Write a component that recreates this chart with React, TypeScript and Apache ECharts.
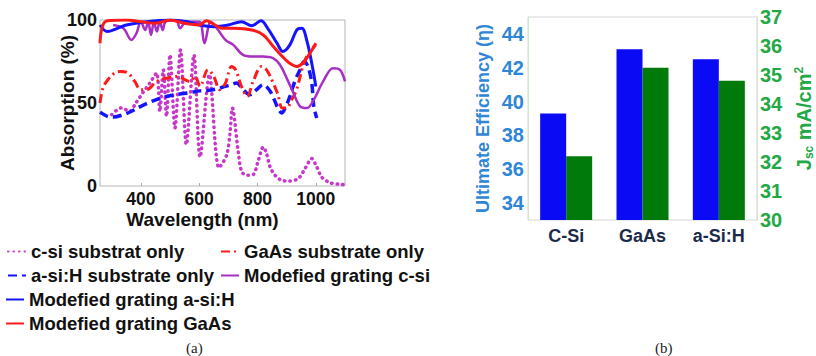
import { useEffect, useRef } from 'react';
import * as echarts from 'echarts';

// ---------- Panel (a): absorption spectra ----------
const wavelengthTicks = [400, 600, 800, 1000];
const absorptionTicks = [0, 50, 100];

const cSiSubstrate: [number, number][] = [
  [300, 43], [333, 47], [362, 45], [383, 50], [410, 57], [431, 62], [454, 68], [465, 45],
  [477, 70], [488, 42], [500, 79], [517, 35], [536, 82], [556, 25], [582, 79], [603, 17.5],
  [635, 67], [668, 11], [694, 18.5], [705, 31], [714, 47], [734, 20.5], [746, 8.5], [765, 6.5],
  [786, 7], [803, 15.5], [820, 23.5], [831, 19.5], [843, 11.5], [860, 6.5], [883, 3.4],
  [908, 3], [940, 4.5], [963, 10.5], [986, 16.5], [1003, 11.5], [1020, 5.4], [1048, 2],
  [1083, 1], [1100, 0.8],
];
const aSiHSubstrate: [number, number][] = [
  [260, 44.5], [285, 42], [306, 41.5], [340, 43], [374, 45.5], [400, 48], [431, 50.5],
  [460, 52.5], [489, 54], [520, 55], [546, 55.7], [575, 56.5], [603, 57.3], [630, 57.5],
  [660, 58.5], [690, 60], [710, 61], [728, 62], [751, 58], [774, 55], [797, 58], [819, 61],
  [840, 58], [855, 53], [870, 47], [883, 44], [895, 47], [911, 54], [930, 64], [946, 70],
  [960, 75], [973, 72], [986, 62], [993, 48], [1003, 41],
];
const gaAsSubstrate: [number, number][] = [
  [260, 50], [270, 59], [287, 64], [310, 68], [332, 69], [356, 68], [379, 63], [400, 58],
  [420, 58], [454, 63], [489, 65], [523, 66], [568, 63], [586, 66], [603, 60], [630, 70],
  [650, 66], [671, 58], [690, 62], [711, 72], [725, 70], [745, 60], [765, 54], [785, 63],
  [814, 72], [831, 70], [854, 62], [870, 55], [885, 47], [900, 47], [917, 52], [934, 58],
  [957, 73], [975, 80], [1000, 85],
];
const gratingCSi: [number, number][] = [
  [305, 97], [340, 95], [368, 88], [385, 92], [400, 99], [415, 94], [425, 99], [435, 91],
  [445, 99], [455, 93], [465, 99], [475, 94], [485, 99], [520, 100], [535, 95], [555, 99],
  [600, 99], [618, 86], [640, 99], [665, 94], [690, 88], [717, 85], [750, 79], [784, 78],
  [819, 78], [853, 77], [877, 73], [900, 65], [921, 57], [946, 48], [970, 47], [990, 51],
  [1025, 63], [1059, 71], [1083, 70], [1100, 63],
];
const gratingASiH: [number, number][] = [
  [260, 97], [285, 93], [320, 95], [350, 97], [420, 99], [500, 100], [560, 99], [600, 97],
  [650, 96], [700, 97], [745, 99], [780, 96.5], [812, 99.5], [835, 95], [867, 86], [887, 81],
  [911, 85], [935, 94], [952, 95], [970, 87], [987, 73], [1000, 60],
];
const gratingGaAs: [number, number][] = [
  [260, 86], [268, 96], [285, 99.5], [350, 100], [400, 99], [450, 98], [500, 100], [550, 98],
  [600, 97], [625, 99.5], [645, 98], [680, 95], [720, 95], [780, 94], [820, 91], [850, 85],
  [885, 78], [910, 74], [935, 72], [955, 74], [980, 80], [1000, 86],
];

const seriesNames = [
  'c-si substrat only',
  'GaAs substrate only',
  'a-si:H substrate only',
  'Modefied grating c-si',
  'Modefied grating a-si:H',
  'Modefied grating GaAs',
];

// ---------- Panel (b): efficiency / Jsc ----------
const materials = ['C-Si', 'GaAs', 'a-Si:H'];
const ultimateEfficiency = [39.3, 43.1, 42.5];
const jscValues = [32.2, 35.25, 34.8];

const FONT = '"Liberation Sans", Arial, sans-serif';
const RED = '#FF1A1A';
const BLUE = '#1414FF';
const MAGENTA_DOT = '#C838C8';
const MAGENTA = '#A82EC4';
const EFF_BLUE = '#2F86D6';
const JSC_GREEN = '#22A845';

const legendLayout = [
  { name: seriesNames[0], left: 7, top: 242 },
  { name: seriesNames[1], left: 220, top: 242 },
  { name: seriesNames[2], left: 7, top: 266 },
  { name: seriesNames[3], left: 220, top: 266 },
  { name: seriesNames[4], left: 5, top: 290 },
  { name: seriesNames[5], left: 5, top: 314 },
];

export default function App() {
  const ref = useRef<HTMLDivElement>(null);
  useEffect(() => {
    const chart = echarts.init(ref.current!, null, { renderer: 'svg' });
    const lineBase = {
      type: 'line' as const,
      xAxisIndex: 0,
      yAxisIndex: 0,
      showSymbol: false,
      symbol: 'none',
      smooth: 0.35,
    };
    const option: any = {
      animation: false,
      backgroundColor: '#fff',
      textStyle: { fontFamily: FONT },
      grid: [
        { left: 100, top: 20, width: 245, height: 166, show: true, borderColor: '#b4b4b4', borderWidth: 1 },
        { left: 528, top: 17, width: 244, height: 203, show: true, borderColor: '#d6d6d6', borderWidth: 1 },
      ],
      xAxis: [
        {
          type: 'value',
          gridIndex: 0,
          min: 260,
          max: 1100,
          name: 'Wavelength (nm)',
          nameLocation: 'middle',
          nameGap: 24,
          nameMoveOverlap: false,
          nameTextStyle: { fontSize: 19, fontWeight: 'bold', color: '#111', fontFamily: FONT, padding: [0, 40, 0, 0] },
          axisLine: { show: false },
          axisTick: { show: true, inside: true, length: 3, lineStyle: { color: '#aaa' }, customValues: wavelengthTicks },
          axisLabel: {
            customValues: wavelengthTicks,
            fontSize: 17.5,
            fontWeight: 'bold',
            color: '#111',
            margin: 4,
            fontFamily: FONT,
            formatter: (v: number) => String(v),
          },
          splitLine: { show: false },
        },
        {
          type: 'category',
          gridIndex: 1,
          data: materials,
          axisLine: { show: false },
          axisTick: { show: false },
          axisLabel: { fontSize: 18, fontWeight: 'bold', color: '#1B2A4A', margin: 7, fontFamily: FONT },
        },
      ],
      yAxis: [
        {
          type: 'value',
          gridIndex: 0,
          min: 0,
          max: 100,
          interval: 50,
          name: 'Absorption (%)',
          nameLocation: 'middle',
          nameGap: 23,
          nameMoveOverlap: false,
          nameTextStyle: { fontSize: 19, fontWeight: 'bold', color: '#111', fontFamily: FONT },
          axisLine: { show: false },
          axisTick: { show: false },
          axisLabel: {
            customValues: absorptionTicks,
            fontSize: 18,
            fontWeight: 'bold',
            color: '#111',
            margin: 3,
            fontFamily: FONT,
          },
          splitLine: { show: false },
        },
        {
          type: 'value',
          gridIndex: 1,
          position: 'left',
          min: 33,
          max: 45,
          interval: 1,
          name: 'Ultimate Efficiency (η)',
          nameLocation: 'middle',
          nameGap: 36,
          nameMoveOverlap: false,
          nameTextStyle: { fontSize: 18, fontWeight: 'bold', color: EFF_BLUE, fontFamily: FONT },
          axisLine: { show: true, lineStyle: { color: '#cfe6cf' } },
          axisTick: { show: false },
          axisLabel: {
            fontSize: 20,
            fontWeight: 'bold',
            color: EFF_BLUE,
            margin: 4,
            fontFamily: FONT,
            formatter: (v: number) => (v % 2 === 0 ? String(v) : ''),
          },
          splitLine: { show: false },
        },
        {
          type: 'value',
          gridIndex: 1,
          position: 'right',
          min: 30,
          max: 37,
          interval: 1,
          name: '{j|J}{s|sc}{t| mA/cm}{p|2}',
          nameLocation: 'middle',
          nameGap: 36,
          nameMoveOverlap: false,
          nameTextStyle: {
            color: JSC_GREEN,
            fontFamily: FONT,
            rich: {
              j: { fontSize: 20, fontWeight: 'bold', color: JSC_GREEN, fontFamily: FONT },
              s: { fontSize: 12, fontWeight: 'bold', color: JSC_GREEN, fontFamily: FONT, verticalAlign: 'bottom', padding: [10, 0, 0, 0] },
              t: { fontSize: 20, fontWeight: 'bold', color: JSC_GREEN, fontFamily: FONT },
              p: { fontSize: 12, fontWeight: 'bold', color: JSC_GREEN, fontFamily: FONT, verticalAlign: 'top', padding: [0, 0, 10, 0] },
            },
          },
          axisLine: { show: true, lineStyle: { color: '#cfe6cf' } },
          axisTick: { show: false },
          axisLabel: { fontSize: 20, fontWeight: 'bold', color: JSC_GREEN, margin: 3, fontFamily: FONT },
          splitLine: { show: false },
        },
      ],
      legend: legendLayout.map((l) => ({
        data: [l.name],
        left: l.left,
        top: l.top,
        padding: 0,
        itemWidth: 18,
        itemHeight: 10,
        itemGap: 0,
        itemStyle: { color: 'transparent', borderColor: 'transparent', borderWidth: 0, opacity: 0 },
        textStyle: { fontSize: 18.5, fontWeight: 'bold', color: '#111', fontFamily: FONT },
      })),
      series: [
        {
          ...lineBase,
          name: seriesNames[0],
          data: cSiSubstrate,
          smooth: 0.3,
          lineStyle: { color: MAGENTA_DOT, width: 3.5, type: [0.5, 5], cap: 'round' },
          itemStyle: { color: MAGENTA_DOT },
        },
        {
          ...lineBase,
          name: seriesNames[2],
          data: aSiHSubstrate,
          lineStyle: { color: BLUE, width: 3.5, type: [9, 5] },
          itemStyle: { color: BLUE },
        },
        {
          ...lineBase,
          name: seriesNames[1],
          data: gaAsSubstrate,
          lineStyle: { color: RED, width: 3, type: [9, 4, 2, 4] },
          itemStyle: { color: RED },
        },
        {
          ...lineBase,
          name: seriesNames[3],
          data: gratingCSi,
          lineStyle: { color: MAGENTA, width: 2.5 },
          itemStyle: { color: MAGENTA },
        },
        {
          ...lineBase,
          name: seriesNames[4],
          data: gratingASiH,
          lineStyle: { color: BLUE, width: 3 },
          itemStyle: { color: BLUE },
        },
        {
          ...lineBase,
          name: seriesNames[5],
          data: gratingGaAs,
          lineStyle: { color: RED, width: 3 },
          itemStyle: { color: RED },
        },
        {
          type: 'bar',
          name: 'Ultimate Efficiency',
          xAxisIndex: 1,
          yAxisIndex: 1,
          data: ultimateEfficiency,
          barWidth: 26,
          barGap: '0%',
          itemStyle: { color: '#0A0AF5' },
        },
        {
          type: 'bar',
          name: 'Jsc',
          xAxisIndex: 1,
          yAxisIndex: 2,
          data: jscValues,
          barWidth: 26,
          barGap: '0%',
          itemStyle: { color: '#007A0A' },
        },
      ],
      graphic: [
        { type: 'text', left: 186, top: 340, style: { text: '(a)', font: '15px "Liberation Serif", "Times New Roman", serif', fill: '#222' } },
        { type: 'text', left: 655, top: 340, style: { text: '(b)', font: '15px "Liberation Serif", "Times New Roman", serif', fill: '#222' } },
      ],
    };
    chart.setOption(option);
    return () => chart.dispose();
  }, []);
  return <div ref={ref} style={{ position: 'fixed', left: 0, top: 0, width: 816, height: 356 }} />;
}
